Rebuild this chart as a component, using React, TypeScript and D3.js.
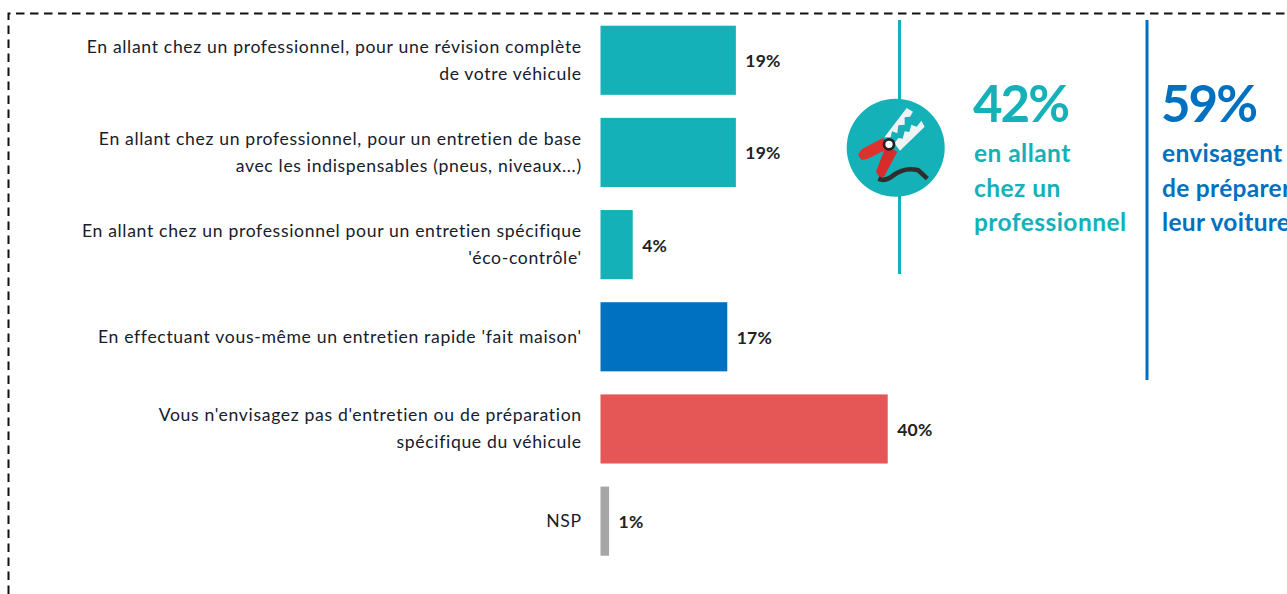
import React from "react";
import * as d3 from "d3";

const labelLines = [
  ["En allant chez un professionnel, pour une révision complète", "de votre véhicule"],
  ["En allant chez un professionnel, pour un entretien de base", "avec les indispensables (pneus, niveaux...)"],
  ["En allant chez un professionnel pour un entretien spécifique", "'éco-contrôle'"],
  ["En effectuant vous-même un entretien rapide 'fait maison'"],
  ["Vous n'envisagez pas d'entretien ou de préparation", "spécifique du véhicule"],
  ["NSP"],
];
const categories = ["pro-complete", "pro-base", "pro-eco", "maison", "aucun", "nsp"];
const values = [18.9, 18.9, 4.5, 17.7, 40.1, 1.2];
const valueLabels = ["19%", "19%", "4%", "17%", "40%", "1%"];
const colors = ["#14b1b8", "#14b1b8", "#14b1b8", "#0070c0", "#e45756", "#a6a6a6"];
const TEAL = "#14b1b8";
const BLUE = "#0070c0";
const FONT = "Lato, sans-serif";

export default function App() {
  const x = d3.scaleLinear().domain([0, 40]).range([600.5, 887]);
  const y = d3.scaleBand<string>().domain(categories).range([25.7, 555.7]).paddingInner(0.25);
  return (
    <svg width={1287} height={594} style={{ position: "absolute", left: 0, top: 0, background: "#fff", fontFamily: FONT }}>
      <path d="M8.5 594V13.5H1287" fill="none" stroke="#111" strokeWidth={2} strokeDasharray="8.5 5.5" />
      {categories.map((c, i) => {
        const yy = y(c)!;
        const bw = y.bandwidth();
        const lines = labelLines[i];
        return (
          <g key={c}>
            <rect x={x(0)} y={yy} width={x(values[i]) - x(0)} height={bw} fill={colors[i]} />
            {lines.map((l, j) => (
              <text key={j} x={581.8} y={yy + bw / 2 + 6 + (j - (lines.length - 1) / 2) * 27} textAnchor="end" fontSize={17.6} fill="#16202c" letterSpacing={0.66}>
                {l}
              </text>
            ))}
            <text x={x(values[i]) + 9.5} y={yy + bw / 2 + 7} fontSize={17.5} fontWeight={700} letterSpacing={0.2} fill="#222">
              {valueLabels[i]}
            </text>
          </g>
        );
      })}
      <line x1={899.5} x2={899.5} y1={20} y2={274} stroke={TEAL} strokeWidth={3} />
      <line x1={1147} x2={1147} y1={20} y2={380} stroke={BLUE} strokeWidth={3} />
      <circle cx={895.7} cy={147.8} r={49} fill={TEAL} />
      <g transform="translate(850,100) scale(0.3333)">
        <path d="M103 112 L170 24 L189 35 L180 50 L164 52 L164 74 L145 76 L142 100 L126 94 L122 112 Z" fill="#eef3f4" />
        <path d="M133 130 L145 114 L158 116 L164 94 L178 96 L184 74 L200 80 L214 62 L224 80 L150 152 Z" fill="#eef3f4" />
        <path d="M100 113 L35 148 L24 165 L35 180 L52 177 L112 147 Z" fill="#e1312f" />
        <path d="M103 150 L78 215 L88 232 L102 230 L142 155 L125 146 Z" fill="#d92b2c" />
        <path d="M85 236 Q108 246 130 226 Q165 200 205 211 L232 236" fill="none" stroke="#2e2e2e" strokeWidth={14} />
        <circle cx={117} cy={133} r={15} fill="#fff" stroke="#222" strokeWidth={8} />
      </g>
      <text x={973} y={122} fontSize={51} fontWeight={700} letterSpacing={-2} fill={TEAL}>42%</text>
      {["en allant", "chez un", "professionnel"].map((t, i) => (
        <text key={t} x={974} y={162 + i * 34.5} fontSize={24.5} fontWeight={700} letterSpacing={0.45} fill={TEAL}>{t}</text>
      ))}
      <text x={1161} y={122} fontSize={51} fontWeight={700} letterSpacing={-2} fill={BLUE}>59%</text>
      {["envisagent", "de préparer", "leur voiture"].map((t, i) => (
        <text key={t} x={1162} y={162 + i * 34.5} fontSize={24.5} fontWeight={700} letterSpacing={0.3} fill={BLUE}>{t}</text>
      ))}
    </svg>
  );
}
